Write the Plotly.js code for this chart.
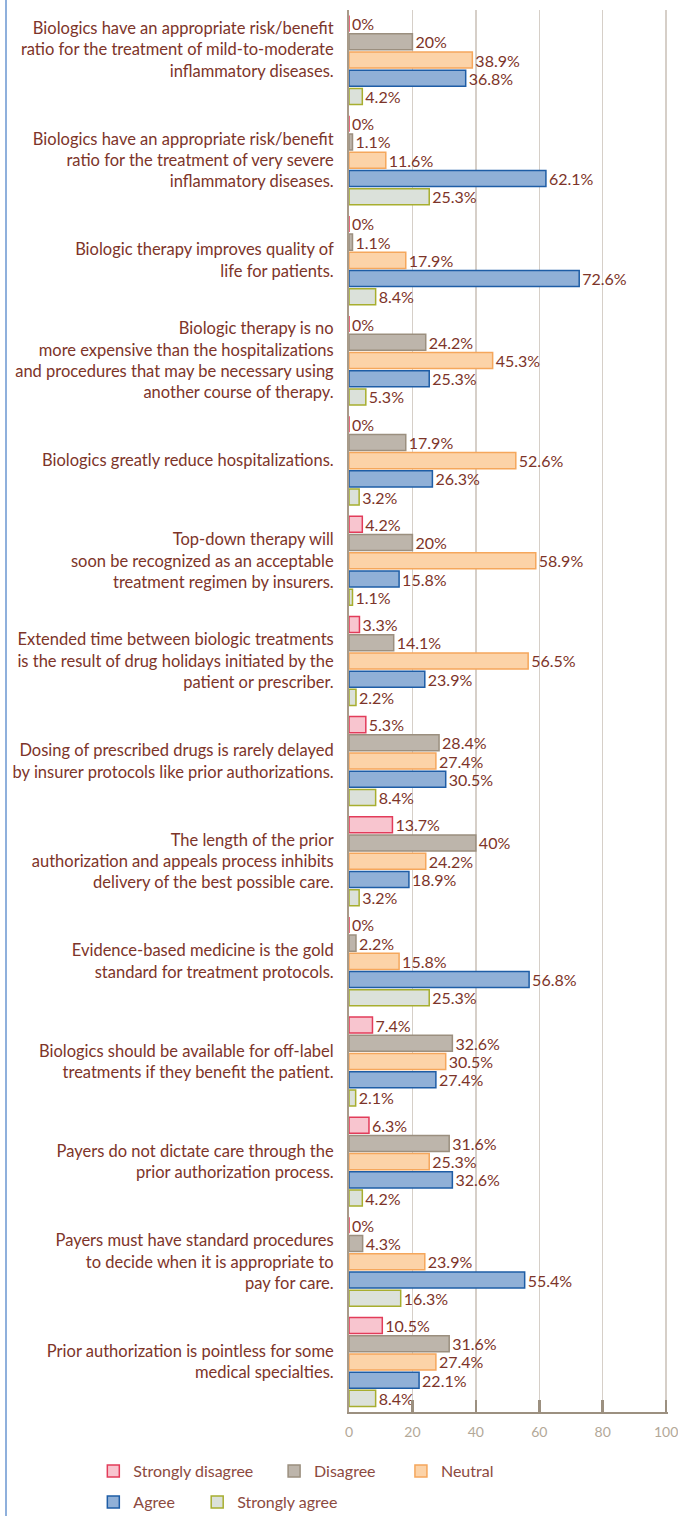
<!DOCTYPE html>
<html>
<head>
<meta charset="utf-8">
<script src="https://cdn.plot.ly/plotly-3.0.1.min.js"></script>
<style>
  html, body { margin: 0; padding: 0; background: #ffffff; }
  #wrap { position: relative; width: 678px; height: 1516px; }
  #rule { position: absolute; left: 5px; top: 0; width: 2px; height: 1516px; background: #8fb0dc; }
  #chart { position: absolute; left: 0; top: 0; width: 678px; height: 1516px; }
</style>
</head>
<body>
<div id="wrap"><div id="rule"></div><div id="chart"></div></div>
<script>
const categories = [
  "Biologics have an appropriate risk/benefit<br>ratio for the treatment of mild-to-moderate<br>inflammatory diseases.<br> ",
  "Biologics have an appropriate risk/benefit<br>ratio for the treatment of very severe<br>inflammatory diseases.",
  "Biologic therapy improves quality of<br>life for patients.",
  "Biologic therapy is no<br>more expensive than the hospitalizations<br>and procedures that may be necessary using<br>another course of therapy.",
  "Biologics greatly reduce hospitalizations.",
  "Top-down therapy will<br>soon be recognized as an acceptable<br>treatment regimen by insurers.",
  "Extended time between biologic treatments<br>is the result of drug holidays initiated by the<br>patient or prescriber.",
  "Dosing of prescribed drugs is rarely delayed<br>by insurer protocols like prior authorizations.",
  "The length of the prior<br>authorization and appeals process inhibits<br>delivery of the best possible care.",
  "Evidence-based medicine is the gold<br>standard for treatment protocols.",
  "Biologics should be available for off-label<br>treatments if they benefit the patient.",
  "Payers do not dictate care through the<br>prior authorization process.",
  "Payers must have standard procedures<br>to decide when it is appropriate to<br>pay for care.",
  "Prior authorization is pointless for some<br>medical specialties."
];

const stronglyDisagree = [0, 0, 0, 0, 0, 4.2, 3.3, 5.3, 13.7, 0, 7.4, 6.3, 0, 10.5];
const disagree         = [20, 1.1, 1.1, 24.2, 17.9, 20, 14.1, 28.4, 40, 2.2, 32.6, 31.6, 4.3, 31.6];
const neutral          = [38.9, 11.6, 17.9, 45.3, 52.6, 58.9, 56.5, 27.4, 24.2, 15.8, 30.5, 25.3, 23.9, 27.4];
const agree            = [36.8, 62.1, 72.6, 25.3, 26.3, 15.8, 23.9, 30.5, 18.9, 56.8, 27.4, 32.6, 55.4, 22.1];
const stronglyAgree    = [4.2, 25.3, 8.4, 5.3, 3.2, 1.1, 2.2, 8.4, 3.2, 25.3, 2.1, 4.2, 16.3, 8.4];

const seriesNames = ["Strongly disagree", "Disagree", "Neutral", "Agree", "Strongly agree"];
const xTicks = [0, 20, 40, 60, 80, 100];

const seriesData = [stronglyDisagree, disagree, neutral, agree, stronglyAgree];
const fills   = ["#f8c5cf", "#bdb5ab", "#fcd3a8", "#90b0d7", "#dbe1da"];
const borders = ["#e23c5a", "#9b8f7f", "#f5a75c", "#1e5da6", "#a7ae2f"];
const legendIds = ["legend", "legend2", "legend3", "legend4", "legend5"];

const FONT = "Lato, 'Open Sans', sans-serif";
const TEXTC = "#7d3429";

const traces = seriesData.map((vals, i) => ({
  type: "bar",
  orientation: "h",
  name: seriesNames[i],
  y: categories,
  x: vals,
  text: vals.map(v => v + "%"),
  textposition: "outside",
  constraintext: "none",
  cliponaxis: false,
  outsidetextfont: { family: FONT, size: 16, color: TEXTC },
  marker: { color: fills[i], line: { color: borders[i], width: 1.5 } },
  legend: legendIds[i],
  hoverinfo: "x+name"
}));

function px2x(px) { return (px - 349) / 317.5 * (100 / 100.6); }
function py2y(py) { return (1412 - py) / 1402; }

const legendBase = {
  orientation: "h",
  xanchor: "left",
  yanchor: "middle",
  bgcolor: "rgba(0,0,0,0)",
  font: { family: FONT, size: 16, color: "#8c4a40" },
  itemclick: false,
  itemdoubleclick: false
};

const layout = {
  width: 678,
  height: 1516,
  margin: { l: 349, r: 9.6, t: 10, b: 104, autoexpand: false },
  paper_bgcolor: "rgba(0,0,0,0)",
  plot_bgcolor: "rgba(0,0,0,0)",
  barmode: "group",
  bargap: 0.09,
  bargroupgap: 0.12,
  font: { family: FONT, color: TEXTC },
  xaxis: {
    range: [0, 100.6],
    tickvals: xTicks,
    ticktext: xTicks.map(String),
    showgrid: true,
    gridcolor: "#d6cfc8",
    gridwidth: 1.5,
    zeroline: false,
    showline: true,
    linecolor: "#9c9080",
    linewidth: 2,
    ticks: "inside",
    ticklen: 12,
    tickwidth: 2.5,
    tickcolor: "#9c9080",
    ticklabelstandoff: 6,
    ticklabeloverflow: "allow",
    tickfont: { family: FONT, size: 14, color: "#b3a898" },
    fixedrange: true
  },
  yaxis: {
    type: "category",
    autorange: "reversed",
    showgrid: false,
    zeroline: false,
    showline: true,
    linecolor: "#a89b8a",
    linewidth: 2,
    ticks: "",
    ticklabelstandoff: 10,
    tickfont: { family: FONT, size: 16.5, color: TEXTC },
    fixedrange: true
  },
  legend:  Object.assign({}, legendBase, { x: px2x(93),  y: py2y(1471) }),
  legend2: Object.assign({}, legendBase, { x: px2x(274), y: py2y(1471) }),
  legend3: Object.assign({}, legendBase, { x: px2x(401), y: py2y(1471) }),
  legend4: Object.assign({}, legendBase, { x: px2x(93),  y: py2y(1502) }),
  legend5: Object.assign({}, legendBase, { x: px2x(197), y: py2y(1502) }),
  showlegend: true
};

Plotly.newPlot("chart", traces, layout, { displayModeBar: false, staticPlot: true });
</script>
</body>
</html>
